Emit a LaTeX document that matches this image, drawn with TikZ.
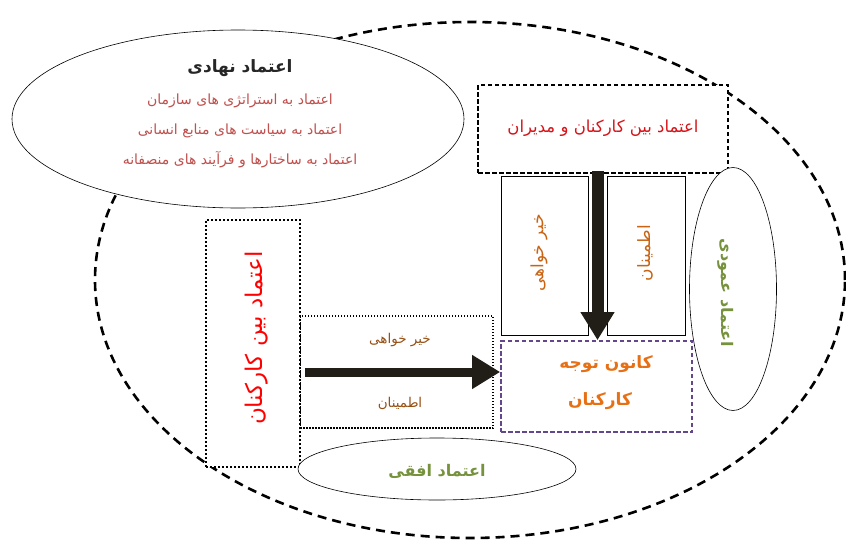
\documentclass[tikz,border=0pt]{standalone}
\usepackage{fontspec}
\usepackage{xcolor}
\usepackage{tikz}
\usetikzlibrary{shapes.geometric,arrows.meta,calc}
\newfontfamily\arabicfont[Script=Arabic]{DejaVu Sans}
\TeXXeTstate=1
\newcommand{\fa}[1]{\beginR #1\endR}
\newcommand{\fs}[1]{\fontsize{#1}{#1}\selectfont\arabicfont}

\definecolor{rosered}{RGB}{192,80,77}
\definecolor{boxred}{RGB}{215,20,25}
\definecolor{burnt}{RGB}{200,100,20}
\definecolor{brownish}{RGB}{150,80,20}
\definecolor{orangetxt}{RGB}{232,112,20}
\definecolor{olivegreen}{RGB}{118,146,60}
\definecolor{darkpurple}{RGB}{100,70,140}
\definecolor{arrowblack}{RGB}{32,30,22}

\tikzset{
  ring/.style={ellipse, draw, line width=2.6pt, dash pattern=on 9pt off 6pt, inner sep=0pt},
  oval/.style={ellipse, draw, fill=white, line width=0.6pt, inner sep=0pt},
  dashbox/.style={draw, fill=white, line width=1.6pt, dash pattern=on 4.5pt off 2.5pt, inner sep=0pt},
  plainbox/.style={draw, fill=white, line width=0.6pt, inner sep=0pt},
  dotbox/.style={draw, fill=white, line width=2.6pt, dash pattern=on 2pt off 2pt, inner sep=0pt},
  thindot/.style={draw, fill=white, line width=1.5pt, dash pattern=on 1.5pt off 1.5pt, inner sep=0pt},
  fatarrow/.style={draw=arrowblack, -{Triangle[length=28pt,width=32pt]}},
  txt/.style={inner sep=0pt}
}

\begin{document}
\begin{tikzpicture}[x=1pt,y=-1pt]
\useasboundingbox (0,0) rectangle (846,541);

% outer ring
\node[ring, minimum width=750pt, minimum height=516pt] (outer) at (470,280) {};

% institutional trust
\node[oval, minimum width=452pt, minimum height=178pt] (inst) at (238,119) {};
\node[txt, font=\fs{17}\bfseries, text=black!85] (insttitle) at (240,68) {\fa{اعتماد نهادی}};
\node[txt, font=\fs{14}, text=rosered] (insta) at (240,101) {\fa{اعتماد به استراتژی های سازمان}};
\node[txt, font=\fs{14}, text=rosered] (instb) at (240,131) {\fa{اعتماد به سیاست های منابع انسانی}};
\node[txt, font=\fs{14}, text=rosered] (instc) at (240,160) {\fa{اعتماد به ساختارها و فرآیند های منصفانه}};

% vertical trust
\node[dashbox, minimum width=250pt, minimum height=88pt] (topbox) at (603,129) {};
\node[txt, font=\fs{16.5}, text=boxred] (toptext) at (603,128) {\fa{اعتماد بین کارکنان و مدیران}};
\node[plainbox, minimum width=87pt, minimum height=159pt] (benevol) at (544.5,255.5) {};
\node[txt, font=\fs{17}, text=burnt, rotate=90] (benevoltext) at (539,253) {\fa{خیر خواهی}};
\node[plainbox, minimum width=78pt, minimum height=159pt] (reliab) at (646,255.5) {};
\node[txt, font=\fs{17}, text=burnt, rotate=90] (reliabtext) at (645,253) {\fa{اطمینان}};
\node[oval, minimum width=87pt, minimum height=243pt] (vert) at (733,289) {};
\node[txt, font=\fs{16}\bfseries, text=olivegreen, rotate=-90] (verttext) at (726,293) {\fa{اعتماد عمودی}};

% horizontal trust
\node[thindot, minimum width=193pt, minimum height=112pt] (midbox) at (396.5,372) {};
\node[txt, font=\fs{13.5}, text=brownish] (midtop) at (400,340) {\fa{خیر خواهی}};
\node[txt, font=\fs{13.5}, text=brownish] (midbot) at (400,403) {\fa{اطمینان}};
\node[dotbox, minimum width=94pt, minimum height=247pt] (peerbox) at (253,343.5) {};
\node[txt, font=\fs{23}, text=red, rotate=90] (peertext) at (257,338) {\fa{اعتماد بین کارکنان}};
\node[oval, minimum width=278pt, minimum height=62pt] (horiz) at (437,469) {};
\node[txt, font=\fs{16}\bfseries, text=olivegreen] (horiztext) at (437,471) {\fa{اعتماد افقی}};

% focus of employees
\node[dashbox, draw=darkpurple, minimum width=191pt, minimum height=91pt] (focus) at (596.5,386.5) {};
\node[txt, font=\fs{17}\bfseries, text=orangetxt] (focusa) at (606,364) {\fa{کانون توجه}};
\node[txt, font=\fs{17}\bfseries, text=orangetxt] (focusb) at (600,401) {\fa{کارکنان}};

% arrows
\coordinate (vmid) at ($(benevol.east)!.5!(reliab.west)$);
\draw[fatarrow, line width=12pt] ([yshift=3pt]vmid |- topbox.south) -- (vmid |- focus.north);
\draw[fatarrow, line width=9pt] ([xshift=6pt]midbox.west) -- (midbox.center -| focus.west);
\end{tikzpicture}
\end{document}
